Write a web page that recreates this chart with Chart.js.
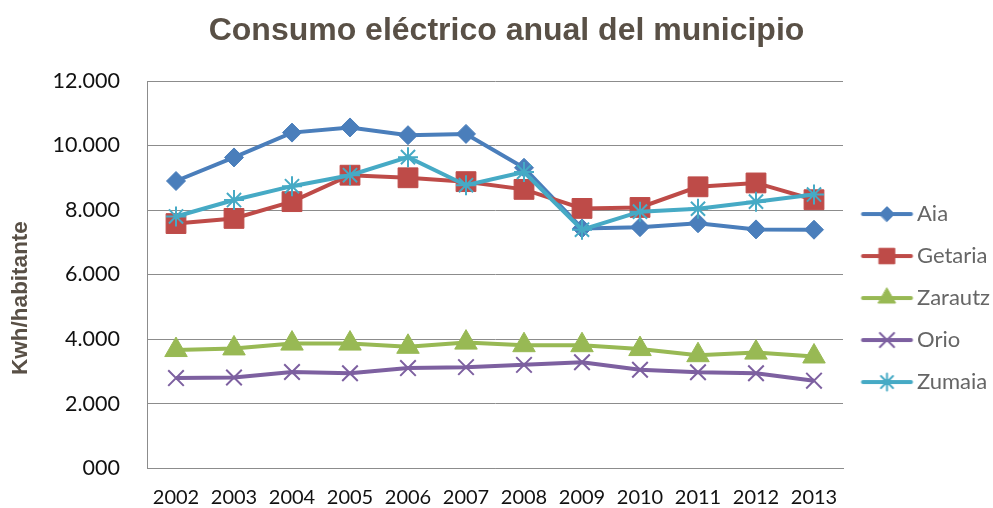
<!DOCTYPE html>
<html>
<head>
<meta charset="utf-8">
<script src="https://cdn.jsdelivr.net/npm/chart.js@4.4.0/dist/chart.umd.min.js"></script>
<style>
html,body{margin:0;padding:0;background:#fff;}
#wrap{width:993px;height:508px;position:relative;}
</style>
</head>
<body>
<div id="wrap"><canvas id="c" width="993" height="508"></canvas></div>
<script>
// ---- data ----
const chartTitle = 'Consumo eléctrico anual del municipio';
const yAxisTitle = 'Kwh/habitante';
const years = ['2002','2003','2004','2005','2006','2007','2008','2009','2010','2011','2012','2013'];
const seriesNames = ['Aia','Getaria','Zarautz','Orio','Zumaia'];
const aia     = [8900, 9630, 10400, 10560, 10320, 10360, 9310, 7430, 7470, 7590, 7400, 7390];
const getaria = [7580, 7740, 8260, 9080, 9000, 8880, 8640, 8050, 8080, 8720, 8840, 8320];
const zarautz = [3660, 3710, 3860, 3860, 3760, 3890, 3810, 3810, 3690, 3500, 3580, 3460];
const orio    = [2790, 2810, 2980, 2940, 3100, 3130, 3200, 3280, 3050, 2970, 2940, 2710];
const zumaia  = [7800, 8310, 8740, 9080, 9640, 8770, 9180, 7390, 7950, 8040, 8260, 8480];
const yTickValues = [0, 2000, 4000, 6000, 8000, 10000, 12000];
const yTickLabels = ['000', '2.000', '4.000', '6.000', '8.000', '10.000', '12.000'];

// ---- styles ----
const seriesData = [aia, getaria, zarautz, orio, zumaia];
const seriesColors = ['#4A7EBB', '#BE4B48', '#98B954', '#7D60A0', '#46AAC5'];
const seriesPoint = ['rectRot', 'rect', 'triangle', 'crossRot', 'star'];
const seriesRadius = [9.5, 14, 13, 11, 10];
const legendRadius = [7.5, 11, 10, 10, 8.5];
const seriesPointBorder = [1, 1, 1, 2, 2];

const datasets = seriesNames.map((name, i) => ({
  label: name,
  data: seriesData[i],
  borderColor: seriesColors[i],
  backgroundColor: seriesColors[i],
  borderWidth: 4,
  tension: 0,
  pointStyle: seriesPoint[i],
  pointRadius: seriesRadius[i],
  pointHoverRadius: seriesRadius[i],
  pointBackgroundColor: seriesColors[i],
  pointBorderColor: seriesColors[i],
  pointBorderWidth: seriesPointBorder[i],
  order: seriesNames.length - i
}));

function makeIcon(i) {
  const cv = document.createElement('canvas');
  cv.width = 60; cv.height = 26;
  const g = cv.getContext('2d');
  const cx = 32.5, cy = 13;
  g.strokeStyle = seriesColors[i];
  g.lineWidth = 4;
  g.lineCap = 'round';
  g.beginPath(); g.moveTo(cx - 24, cy); g.lineTo(cx + 24, cy); g.stroke();
  g.fillStyle = seriesColors[i];
  g.strokeStyle = seriesColors[i];
  g.lineWidth = seriesPointBorder[i];
  Chart.helpers.drawPoint(g, {pointStyle: seriesPoint[i], radius: legendRadius[i], borderWidth: seriesPointBorder[i], rotation: 0}, cx, cy);
  return cv;
}
const legendIcons = seriesNames.map((_, i) => makeIcon(i));

const layoutPlugin = {
  id: 'layoutFix',
  beforeLayout(chart) {
    const lg = chart.legend;
    if (lg && !lg._fixed) {
      const orig = lg.fit.bind(lg);
      lg.fit = function () { orig(); this.width = 150; };
      lg._fixed = true;
    }
  },
  afterLayout(chart) {
    const t = chart.titleBlock;
    if (t) { t.left += 10; t.right += 10; }
  },
  afterDraw(chart) {
    const ctx = chart.ctx;
    ctx.save();
    ctx.translate(21, 298);
    ctx.rotate(-Math.PI / 2);
    ctx.font = 'bold 22.5px "Liberation Sans", Arial, sans-serif';
    ctx.fillStyle = '#595046';
    ctx.textAlign = 'center';
    ctx.textBaseline = 'middle';
    ctx.fillText(yAxisTitle, 0, 0);
    ctx.restore();
  }
};

new Chart(document.getElementById('c'), {
  type: 'line',
  data: { labels: years, datasets },
  plugins: [layoutPlugin],
  options: {
    responsive: false,
    animation: false,
    events: [],
    layout: { padding: 0 },
    plugins: {
      tooltip: { enabled: false },
      title: {
        display: true,
        text: chartTitle,
        color: '#595046',
        font: { family: '"Liberation Sans", Arial, sans-serif', size: 32, weight: 'bold' },
        padding: { top: 11.5, bottom: 31.1 }
      },
      legend: {
        position: 'right',
        fullSize: false,
        align: 'center',
        title: { display: true, text: ' ', font: { size: 10 }, padding: { top: 0, bottom: 35 } },
        labels: {
          usePointStyle: true,
          pointStyleWidth: 43,
          padding: 20,
          color: '#000',
          font: { family: 'Lato, "Open Sans", sans-serif', size: 22 },
          generateLabels(chart) {
            return chart.data.datasets.map((ds, i) => ({
              text: ds.label,
              pointStyle: legendIcons[i],
              fillStyle: seriesColors[i],
              strokeStyle: seriesColors[i],
              lineWidth: 0,
              hidden: false,
              datasetIndex: i
            }));
          }
        }
      }
    },
    scales: {
      x: {
        type: 'category',
        offset: true,
        grid: { display: false, drawTicks: false },
        border: { display: true, color: '#8c8c8c', width: 1 },
        ticks: {
          color: '#111',
          padding: 17,
          maxRotation: 0,
          autoSkip: false,
          font: { family: 'Lato, "Open Sans", sans-serif', size: 20 }
        },
        afterFit(scale) { scale.height = 38; }
      },
      y: {
        min: 0,
        max: 12000,
        afterBuildTicks(scale) { scale.ticks = yTickValues.map(v => ({ value: v })); },
        grid: { color: '#8c8c8c', lineWidth: 1, drawTicks: false },
        border: { display: true, color: '#8c8c8c', width: 1 },
        ticks: {
          color: '#111',
          padding: 27,
          font: { family: 'Lato, "Open Sans", sans-serif', size: 21.5 },
          callback(value) {
            const idx = yTickValues.indexOf(value);
            return idx >= 0 ? yTickLabels[idx] : '';
          }
        },
        afterFit(scale) { scale.width = 147; }
      }
    }
  }
});
</script>
</body>
</html>
